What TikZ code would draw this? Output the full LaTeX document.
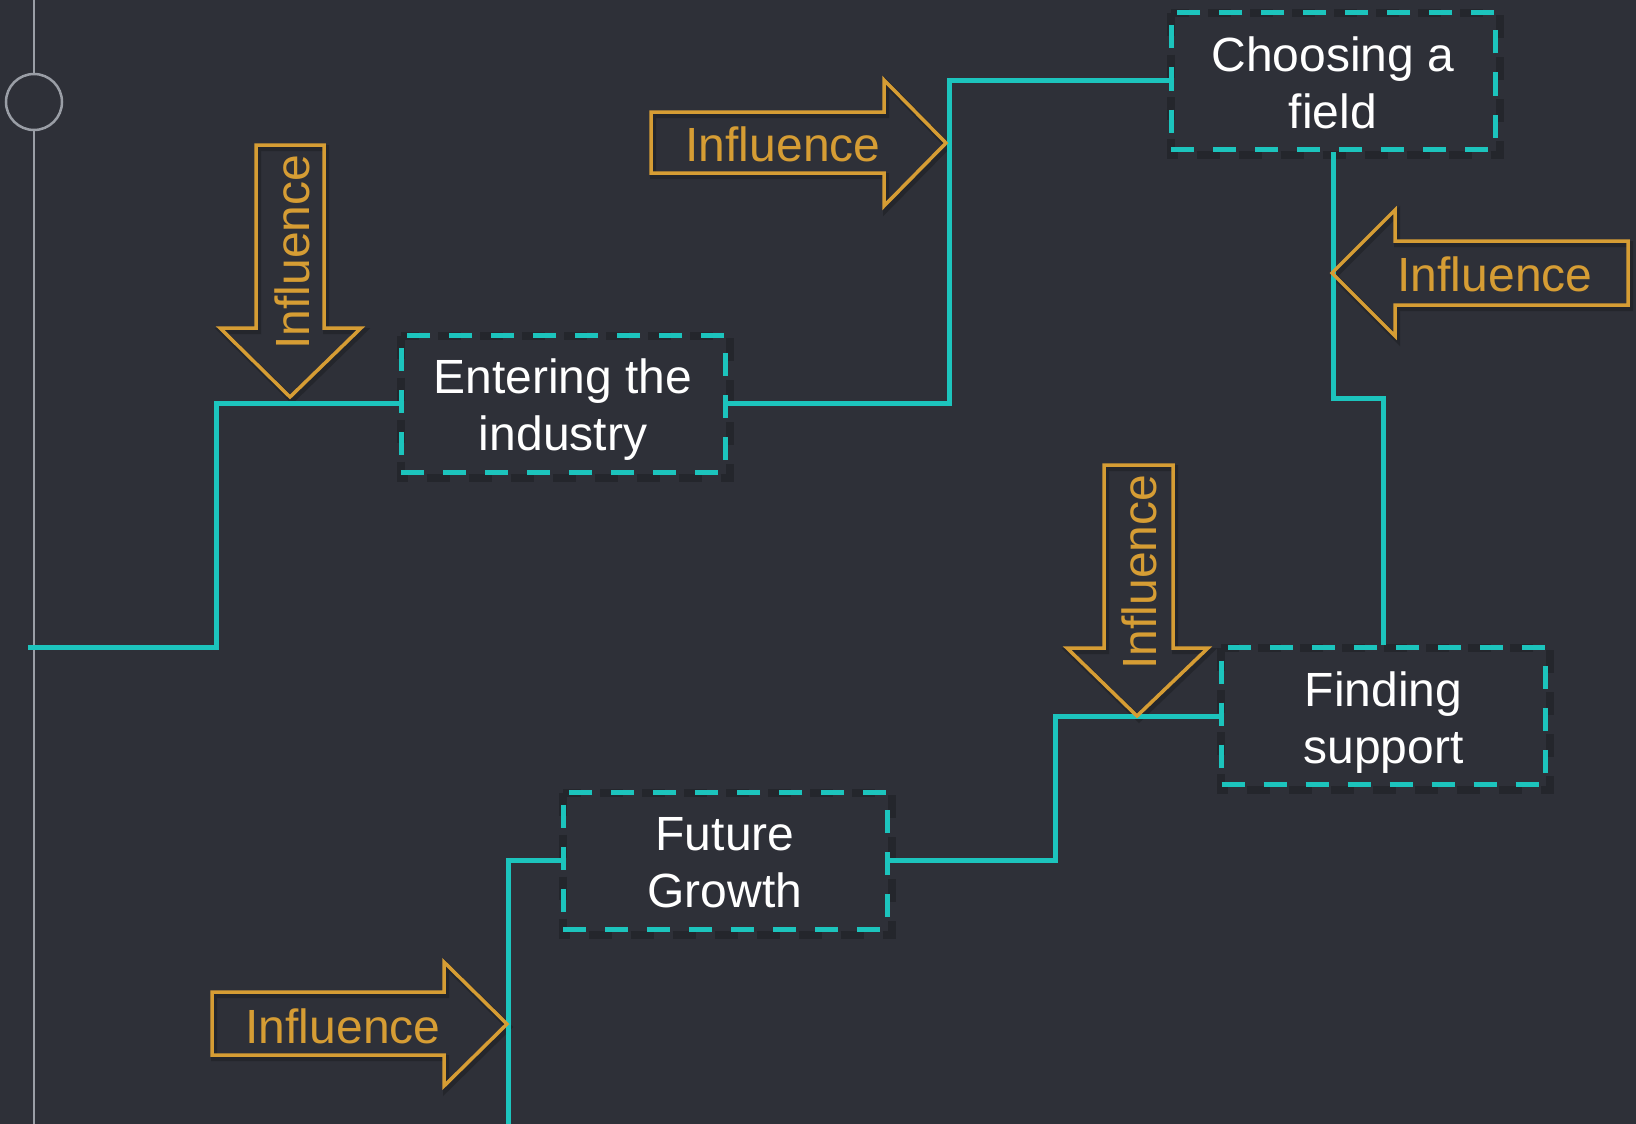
\documentclass[tikz,border=0pt]{standalone}
\usepackage{fontspec}
\setmainfont{Liberation Sans}
\definecolor{bgc}{HTML}{2E3038}
\definecolor{tealc}{HTML}{1CC4BD}
\definecolor{orangec}{HTML}{D69D34}
\definecolor{grayc}{HTML}{9A9EA6}
\newcommand{\boxstrut}{\rule{0pt}{49pt}}
\newcommand{\boxdepth}{\rule[-12pt]{0pt}{12pt}}
\pgfdeclarelayer{ground}
\pgfdeclarelayer{shade}
\pgfsetlayers{ground,shade,main}
\begin{document}
\begin{tikzpicture}[x=1pt,y=-1pt,
  stepbox/.style={draw=tealc, line width=5pt, dash pattern=on 23pt off 19pt,
    minimum width=324pt, minimum height=137pt, inner sep=0pt, text=white,
    font=\fontsize{48}{57}\selectfont, align=center},
  boxshade/.style={draw=black, draw opacity=0.2, line width=8pt, dash pattern=on 23pt off 19pt},
  conn/.style={draw=tealc, line width=5pt, line join=miter},
  arrowshape/.style={draw=orangec, line width=3.5pt, line join=miter},
  arrowshade/.style={draw=black, draw opacity=0.2, line width=6pt, line join=miter},
  arrowtext/.style={text=orangec, font=\fontsize{48}{57}\selectfont, inner sep=0pt}]
\begin{pgfonlayer}{ground}
\fill[bgc] (0,0) rectangle (1636,1124);
\end{pgfonlayer}
\useasboundingbox (0,0) rectangle (1636,1124);
% timeline
\draw[grayc, line width=2pt] (34,0) -- (34,1124);
\node[circle, draw=grayc, fill=bgc, line width=2.5pt, minimum size=56pt, inner sep=0pt] (dot) at (34,102) {};
% boxes
\node[stepbox] (enter) at (563,403.5) {\boxstrut Entering the\\industry\boxdepth};
\node[stepbox] (choose) at (1333,81) {\boxstrut Choosing a\\field\boxdepth};
\node[stepbox] (find) at (1383.5,716) {\boxstrut Finding\\support\boxdepth};
\node[stepbox] (future) at (725,860.5) {\boxstrut Future\\Growth\boxdepth};
\begin{pgfonlayer}{shade}
\foreach \b in {enter,choose,find,future}
  \draw[boxshade] ([shift={(2,3)}]\b.north west) rectangle ([shift={(2,3)}]\b.south east);
\end{pgfonlayer}
% connectors
\coordinate (start) at (28,647);
\coordinate (finish) at (508,1124);
\draw[conn] (start) -- (216,647) |- (enter.west);
\draw[conn] (enter.east) -- ++(222,0) |- (choose.west);
\draw[conn] (choose.south) -- (1333,398) -| (find.north);
\draw[conn] (find.west) -- (1055,716) |- (future.east);
\draw[conn] (future.west) -| (finish);
% influence arrows
\begin{pgfonlayer}{shade}
\begin{scope}[shift={(2,3)}]
\draw[arrowshade] (651,112) -- (884,112) -- (884,80) -- (946,143) -- (884,206) -- (884,173) -- (651,173) -- cycle;
\draw[arrowshade] (212,992) -- (444,992) -- (444,962) -- (507,1024) -- (444,1086) -- (444,1055) -- (212,1055) -- cycle;
\draw[arrowshade] (1628,241) -- (1395,241) -- (1395,210) -- (1332,273) -- (1395,336) -- (1395,305) -- (1628,305) -- cycle;
\draw[arrowshade] (256,145) -- (324,145) -- (324,328) -- (361,328) -- (290,397) -- (220,328) -- (256,328) -- cycle;
\draw[arrowshade] (1104,465) -- (1173,465) -- (1173,648) -- (1208,648) -- (1137,716) -- (1067,648) -- (1104,648) -- cycle;
\end{scope}
\end{pgfonlayer}
\draw[arrowshape] (651,112) -- (884,112) -- (884,80) -- (946,143) -- (884,206) -- (884,173) -- (651,173) -- cycle;
\node[arrowtext] (inf1) at (783,144) {Influence};
\draw[arrowshape] (212,992) -- (444,992) -- (444,962) -- (507,1024) -- (444,1086) -- (444,1055) -- (212,1055) -- cycle;
\node[arrowtext] (inf2) at (343,1026) {Influence};
\draw[arrowshape] (1628,241) -- (1395,241) -- (1395,210) -- (1332,273) -- (1395,336) -- (1395,305) -- (1628,305) -- cycle;
\node[arrowtext] (inf3) at (1495,274) {Influence};
\draw[arrowshape] (256,145) -- (324,145) -- (324,328) -- (361,328) -- (290,397) -- (220,328) -- (256,328) -- cycle;
\node[arrowtext, rotate=90] (inf4) at (292,252) {Influence};
\draw[arrowshape] (1104,465) -- (1173,465) -- (1173,648) -- (1208,648) -- (1137,716) -- (1067,648) -- (1104,648) -- cycle;
\node[arrowtext, rotate=90] (inf5) at (1139,572) {Influence};
\end{tikzpicture}
\end{document}
